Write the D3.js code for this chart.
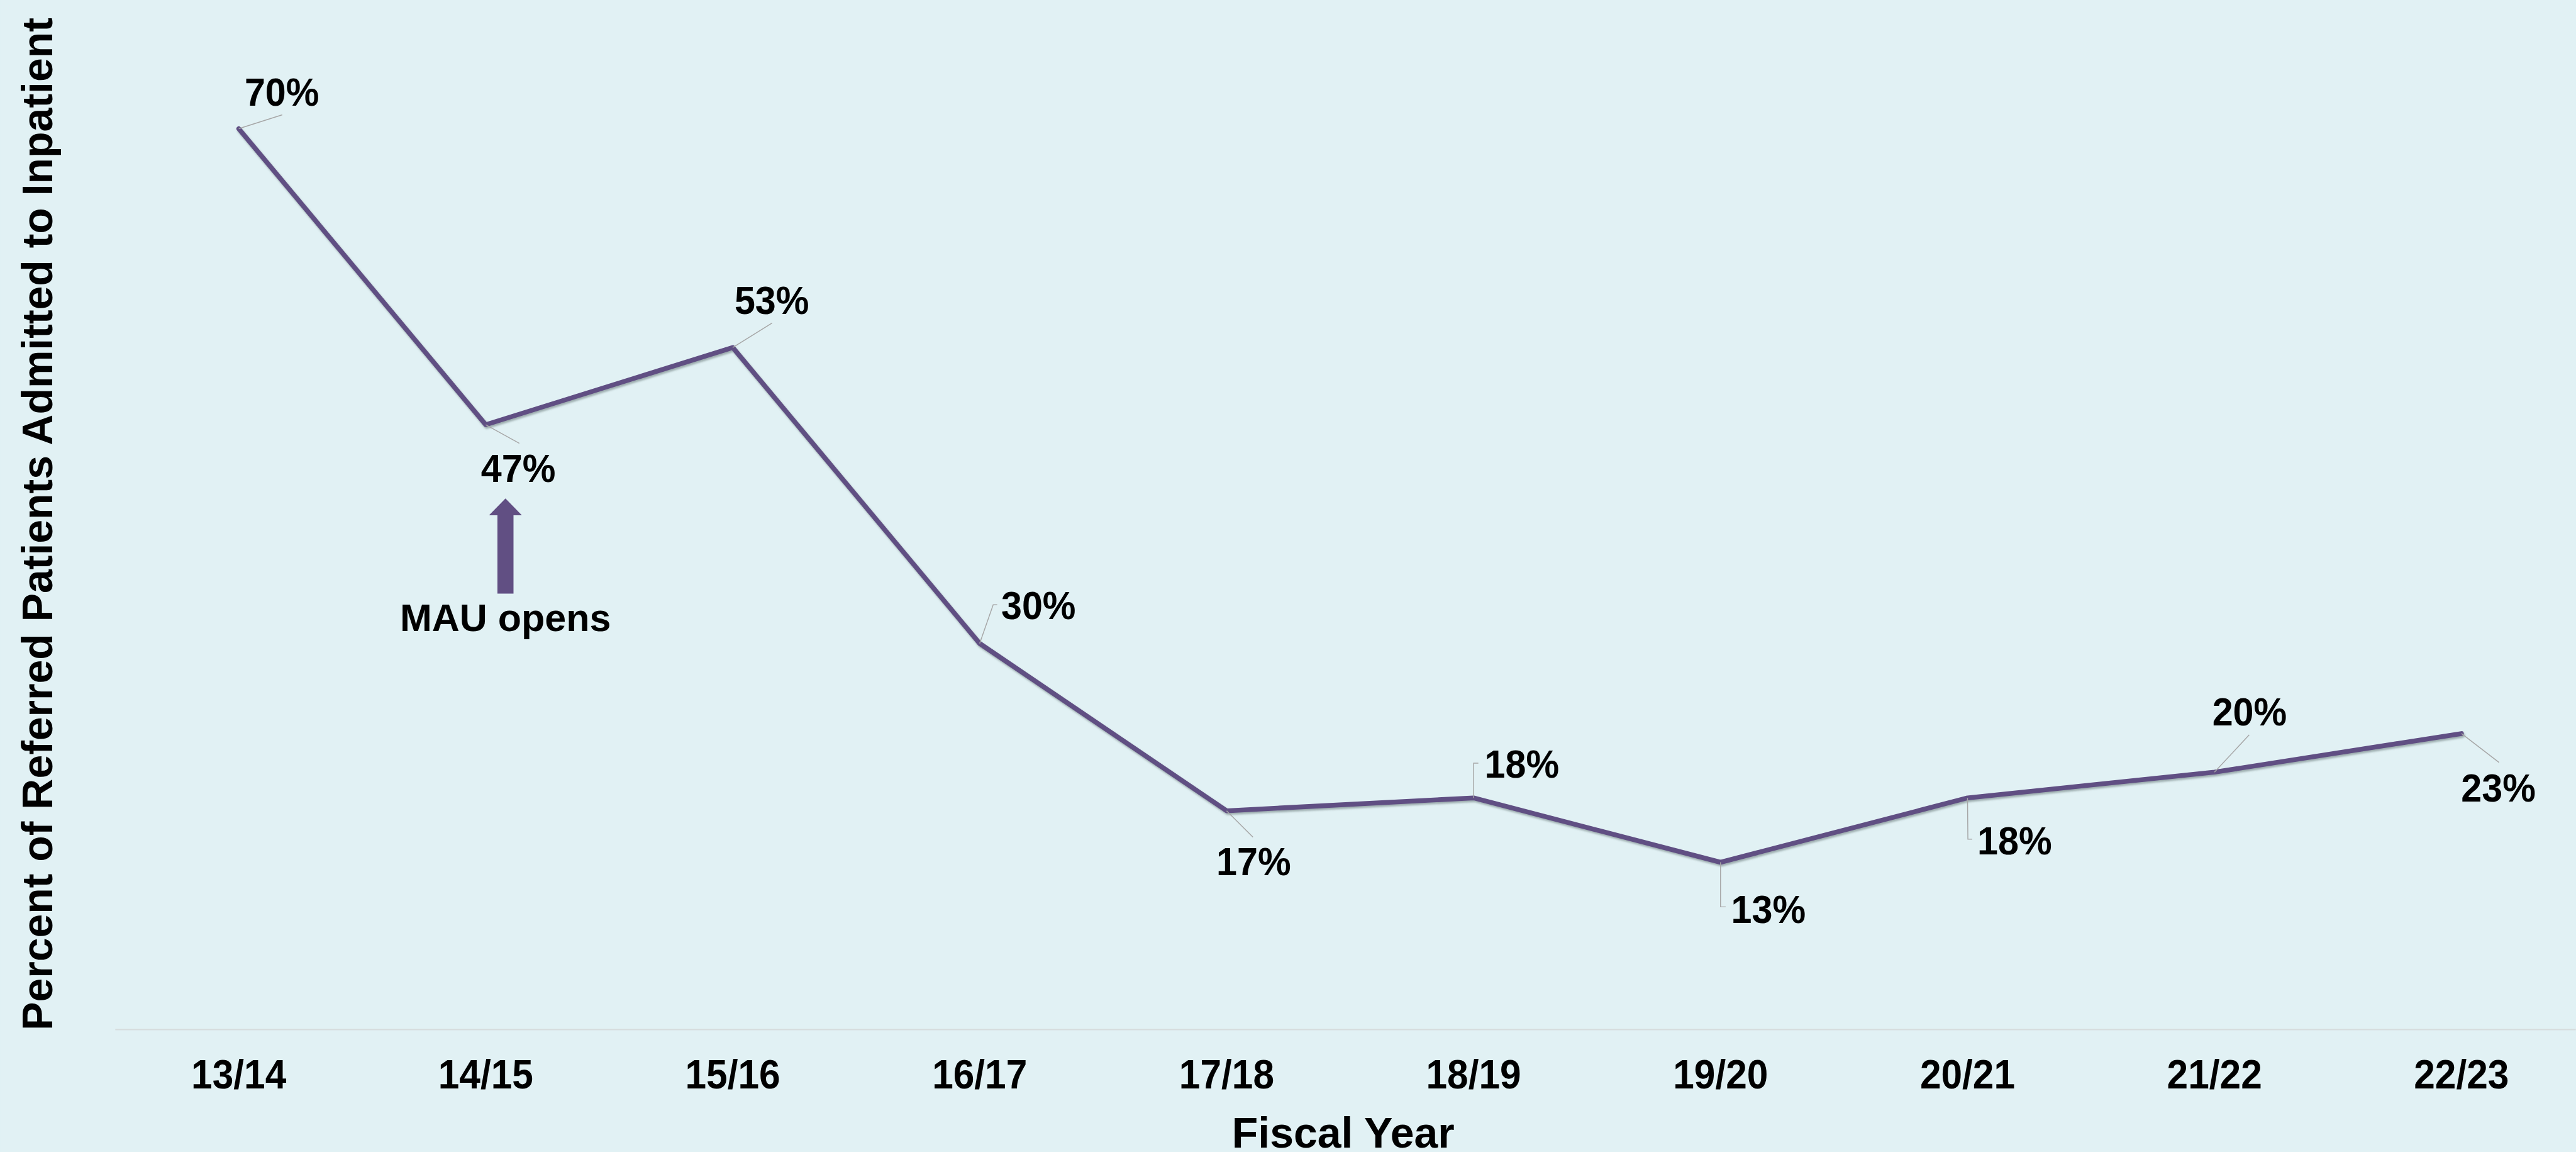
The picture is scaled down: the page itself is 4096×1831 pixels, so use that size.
<!DOCTYPE html>
<html>
<head>
<meta charset="utf-8">
<script src="https://cdn.jsdelivr.net/npm/d3@7"></script>
<style>
    html, body { margin: 0; padding: 0; background: #e1f1f4; overflow: hidden; }
    #chart { width: 4096px; height: 1831px; }
    text { font-family: "Liberation Sans", Arial, sans-serif; font-weight: bold; fill: #000; }
</style>
</head>
<body>
<div id="chart"></div>
<script>
var fiscalYears = ["13/14", "14/15", "15/16", "16/17", "17/18", "18/19", "19/20", "20/21", "21/22", "22/23"];
var admittedPercent = [70, 47, 53, 30, 17, 18, 13, 18, 20, 23];
var valueLabels = ["70%", "47%", "53%", "30%", "17%", "18%", "13%", "18%", "20%", "23%"];
var yDomain = [0, 80];
var xTitle = "Fiscal Year";
var yTitle = "Percent of Referred Patients Admitted to Inpatient";
var noteText = "MAU opens";
var noteYear = "14/15";

// label placement, relative to each point (reference pixels)
var labelOffsets = [
    { dx: 118, dy: -63, leader: [[119, -38]] },
    { dx: 89, dy: 156, leader: [[92, 51]] },
    { dx: 107, dy: -92, leader: [[108, -67]] },
    { dx: 161, dy: -67, leader: [[37, -106], [48, -106]] },
    { dx: 74, dy: 177, leader: [[72, 72]] },
    { dx: 132, dy: -56, leader: [[0, -95], [13, -95]] },
    { dx: 131, dy: 166, leader: [[0, 122], [14, 122]] },
    { dx: 129, dy: 154, leader: [[1, 113], [13, 113]] },
    { dx: 96, dy: -128, leader: [[95, -102]] },
    { dx: 101, dy: 186, leader: [[103, 79]] }
];

var Admissions;
(function (Admissions) {
    var Chart = (function () {
        function Chart() {
            this.svg = d3.select("#chart").append("svg")
                .attr("width", 4096).attr("height", 1831)
                .attr("viewBox", "0 0 " + Chart.refWidth + " " + Chart.refHeight);
            this.x = d3.scaleBand().domain(fiscalYears).range([315, 7075]);
            this.y = d3.scaleLinear().domain(yDomain).range([2817, 0]);
            this.drawBackground();
            this.drawAxes();
            this.drawLine();
            this.drawLabels();
            this.drawNote();
        }
        Chart.prototype.px = function (d) {
            return this.x(d) + this.x.bandwidth() / 2;
        };

        Chart.prototype.drawBackground = function () {
            this.svg.append("rect").attr("width", Chart.refWidth).attr("height", Chart.refHeight).attr("fill", "#e1f1f4");
            var f = this.svg.append("defs").append("filter").attr("id", "shadow")
                .attr("x", "-5%").attr("y", "-5%").attr("width", "110%").attr("height", "110%");
            f.append("feDropShadow").attr("dx", 3).attr("dy", 5).attr("stdDeviation", 3)
                .attr("flood-color", "#4a5a5a").attr("flood-opacity", 0.45);
        };

        Chart.prototype.drawAxes = function () {
            var _this = this;
            var axis = d3.axisBottom(this.x).tickSize(0).tickPadding(0).tickFormat("");
            var g = this.svg.append("g").attr("transform", "translate(0," + this.y(0) + ")").call(axis);
            g.select(".domain").attr("d", "M315,0H" + Chart.refWidth).attr("stroke", "#d6dcdd").attr("stroke-width", 4);
            g.selectAll(".tick").append("g").attr("transform", "translate(0,161) scale(1,1.06)")
                .append("text").attr("text-anchor", "middle").attr("font-size", 104)
                .text(function (d) { return d; });

            this.svg.append("text").attr("x", 3676).attr("y", 3140).attr("text-anchor", "middle")
                .attr("font-size", 117).text(xTitle);
            this.svg.append("text").attr("transform", "translate(143,1434) rotate(-90)")
                .attr("text-anchor", "middle").attr("font-size", 117).text(yTitle);
        };

        Chart.prototype.drawLine = function () {
            var _this = this;
            var line = d3.line()
                .x(function (d, i) { return _this.px(fiscalYears[i]); })
                .y(function (d) { return _this.y(d); });
            this.svg.append("path").datum(admittedPercent).attr("d", line)
                .attr("fill", "none").attr("stroke", "#614f83").attr("stroke-width", 13)
                .attr("stroke-linejoin", "round").attr("stroke-linecap", "round")
                .attr("filter", "url(#shadow)");
        };

        Chart.prototype.drawLabels = function () {
            var _this = this;
            var g = this.svg.append("g");
            admittedPercent.forEach(function (v, i) {
                var cx = _this.px(fiscalYears[i]);
                var cy = _this.y(v);
                var o = labelOffsets[i];
                var pts = [[cx, cy]].concat(o.leader.map(function (p) { return [cx + p[0], cy + p[1]]; }));
                g.append("path").attr("d", d3.line()(pts)).attr("fill", "none")
                    .attr("stroke", "#a6a6a6").attr("stroke-width", 2.5);
                g.append("g").attr("transform", "translate(" + (cx + o.dx) + "," + (cy + o.dy) + ") scale(1,1.07)")
                    .append("text").attr("text-anchor", "middle").attr("font-size", 102).text(valueLabels[i]);
            });
        };

        Chart.prototype.drawNote = function () {
            var ax = this.px(noteYear) + 54;
            var pts = [[ax - 22, 1624], [ax - 22, 1410], [ax - 45, 1410], [ax, 1364], [ax + 45, 1410], [ax + 22, 1410], [ax + 22, 1624]];
            this.svg.append("path").attr("d", d3.line()(pts) + "Z").attr("fill", "#614f83");
            this.svg.append("text").attr("x", ax).attr("y", 1726).attr("text-anchor", "middle")
                .attr("font-size", 105).text(noteText);
        };
        Chart.refWidth = 7050;
        Chart.refHeight = 3152;
        return Chart;
    })();
    Admissions.Chart = Chart;
})(Admissions || (Admissions = {}));

var chart = new Admissions.Chart();
</script>
</body>
</html>
